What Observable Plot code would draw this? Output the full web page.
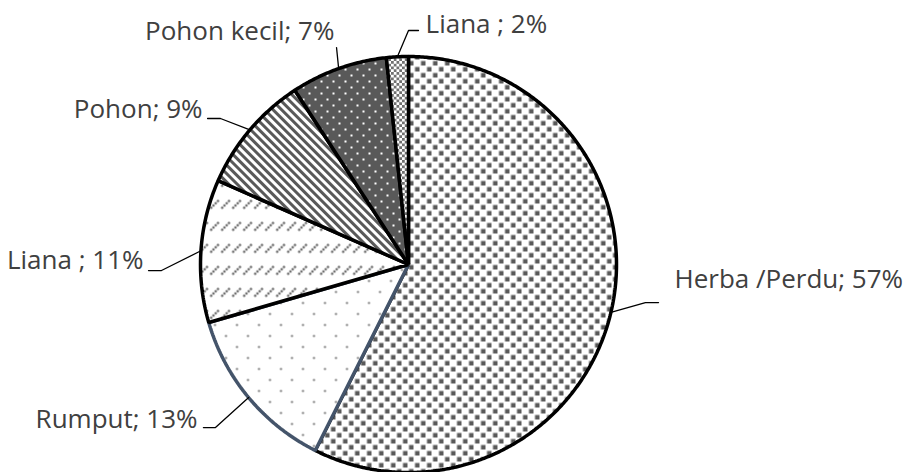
<!DOCTYPE html>
<html><head><meta charset="utf-8">
<script src="https://cdn.jsdelivr.net/npm/d3@7"></script>
<script src="https://cdn.jsdelivr.net/npm/@observablehq/plot@0.6"></script>
<style>html,body{margin:0;padding:0;background:#fff;} #chart svg{display:block;}</style>
</head><body>
<svg width="0" height="0" style="position:absolute">
<defs>
 <pattern id="pHerba" width="12" height="12" patternUnits="userSpaceOnUse">
   <rect width="12" height="12" fill="#fff"/>
   <rect x="0.5" y="0.5" width="4.5" height="4.5" fill="#595959"/>
   <rect x="6.5" y="6.5" width="4.5" height="4.5" fill="#595959"/>
 </pattern>
 <pattern id="pRumput" width="22" height="22" patternUnits="userSpaceOnUse">
   <rect width="22" height="22" fill="#fff"/>
   <circle cx="5.5" cy="5.5" r="1.1" fill="#666"/>
   <circle cx="16.5" cy="16.5" r="1.1" fill="#666"/>
 </pattern>
 <pattern id="pLiana11" width="11" height="22" patternUnits="userSpaceOnUse">
   <rect width="11" height="22" fill="#fff"/>
   <path d="M1 10 L10 1" stroke="#595959" stroke-width="2.2" stroke-dasharray="2 1.2"/>
 </pattern>
 <pattern id="pPohon" width="6" height="6" patternUnits="userSpaceOnUse" patternTransform="rotate(-45)">
   <rect width="6" height="6" fill="#fff"/>
   <rect width="3" height="6" fill="#595959"/>
 </pattern>
 <pattern id="pKecil" width="12" height="12" patternUnits="userSpaceOnUse">
   <rect width="12" height="12" fill="#595959"/>
   <rect x="2" y="2" width="2" height="2" fill="#fff"/>
   <rect x="8" y="8" width="2" height="2" fill="#fff"/>
 </pattern>
 <pattern id="pLiana2" width="5.5" height="5.5" patternUnits="userSpaceOnUse">
   <rect width="5.5" height="5.5" fill="#fff"/>
   <rect x="0" y="0" width="2.75" height="2.75" fill="#707070"/>
   <rect x="2.75" y="2.75" width="2.75" height="2.75" fill="#707070"/>
 </pattern>
</defs></svg>
<div id="chart"></div>
<script>
// ---- data ----
const categories = ["Herba /Perdu", "Rumput", "Liana ", "Pohon", "Pohon kecil", "Liana "];
const values = [57.4, 13.1, 11.1, 9.2, 7.5, 1.7];
const percentLabels = ["57%", "13%", "11%", "9%", "7%", "2%"];
// ---- styles ----
const fills = ["url(#pHerba)", "url(#pRumput)", "url(#pLiana11)", "url(#pPohon)", "url(#pKecil)", "url(#pLiana2)"];
const outlines = ["#000000", "#44546A", "#000000", "#000000", "#000000", "#000000"];
// ---- label layout (data units, pie radius = 1) ----
const labelX = [1.279, -1.014, -1.274, -0.990, -0.356, 0.082];
const labelY = [-0.115, -0.784, -0.024, 0.702, 1.077, 1.115];
const labelAnchor = ["start", "end", "end", "end", "end", "start"];
const elbowX = [1.139, -0.928, -1.1875, -0.904, -0.346, 0.0];
const elbowY = [-0.183, -0.784, -0.029, 0.702, 1.043, 1.125];
const endX = [1.202, -0.986, -1.25, -0.966, -0.346, 0.048];
const endY = [-0.183, -0.784, -0.029, 0.702, 1.043, 1.125];

const arcs = d3.pie().sort(null).value(d => d).startAngle(0).endAngle(2 * Math.PI)(values);
const slicePts = [];
arcs.forEach((a, i) => {
  const n = Math.max(2, Math.ceil((a.endAngle - a.startAngle) / (Math.PI / 360)));
  slicePts.push({i, x: 0, y: 0});
  for (let k = 0; k <= n; k++) {
    const t = a.startAngle + (a.endAngle - a.startAngle) * k / n;
    slicePts.push({i, x: Math.sin(t), y: Math.cos(t)});
  }
  slicePts.push({i, x: 0, y: 0});
});
const leaderPts = [];
arcs.forEach((a, i) => {
  const m = (a.startAngle + a.endAngle) / 2;
  leaderPts.push({i, x: Math.sin(m), y: Math.cos(m)});
  leaderPts.push({i, x: elbowX[i], y: elbowY[i]});
  leaderPts.push({i, x: endX[i], y: endY[i]});
});
const idx = d3.range(categories.length);
const textOpts = (anchor) => ({
  x: i => labelX[i], y: i => labelY[i],
  text: i => categories[i] + "; " + percentLabels[i],
  textAnchor: anchor, lineAnchor: "bottom",
  fontSize: 26, fontFamily: "'Open Sans', 'Noto Sans', sans-serif", fill: "#404040"
});

const chart = Plot.plot({
  width: 912, height: 472,
  marginLeft: 200, marginRight: 296, marginTop: 56, marginBottom: 0,
  x: {domain: [-1, 1], axis: null},
  y: {domain: [-1, 1], axis: null},
  color: {type: "identity"},
  style: {background: "#fff", overflow: "visible"},
  marks: [
    Plot.line(slicePts, {x: "x", y: "y", z: "i", fill: d => fills[d.i], stroke: d => outlines[d.i], strokeWidth: 3.5, strokeLinejoin: "miter", strokeLinecap: "butt"}),
    Plot.line(leaderPts, {x: "x", y: "y", z: "i", stroke: "#000", strokeWidth: 1.3, strokeLinejoin: "miter"}),
    Plot.text(idx.filter(i => labelAnchor[i] === "start"), textOpts("start")),
    Plot.text(idx.filter(i => labelAnchor[i] === "end"), textOpts("end"))
  ]
});
document.getElementById("chart").appendChild(chart);
</script>
</body></html>
